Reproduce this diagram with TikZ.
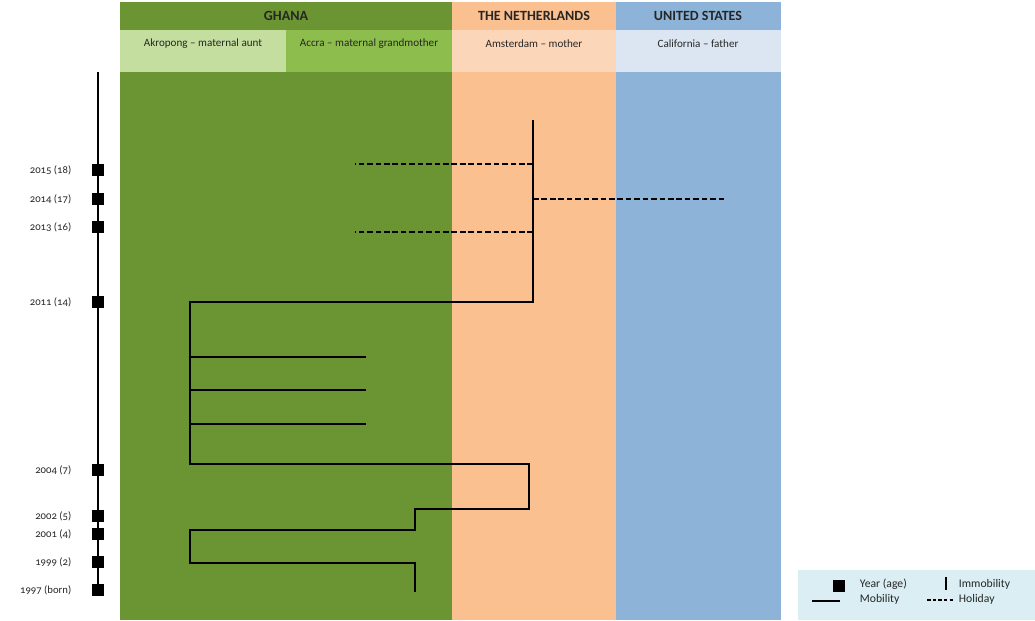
\documentclass[tikz,border=0pt]{standalone}
\usepackage{fontspec}
\setmainfont{Carlito}
\newfontfamily\yearfont[Numbers=OldStyle]{Carlito}
\usetikzlibrary{positioning}

\definecolor{ghanadark}{RGB}{107,148,50}
\definecolor{akrolight}{RGB}{196,222,160}
\definecolor{accramid}{RGB}{141,189,76}
\definecolor{nlpeach}{RGB}{251,192,144}
\definecolor{nllight}{RGB}{252,214,184}
\definecolor{usblue}{RGB}{141,180,216}
\definecolor{uslight}{RGB}{220,230,242}
\definecolor{legendblue}{RGB}{218,238,243}

\begin{document}
\begin{tikzpicture}[
				x=0.025cm, y=-0.025cm,
				country/.style={font=\bfseries\fontsize{10}{12}\selectfont, text=black!85},
				place/.style={font=\fontsize{7.9}{9}\selectfont, text=black!85},
				legendtext/.style={font=\fontsize{8.3}{9}\selectfont, text=black!85, anchor=west},
				mobility/.style={line width=1.1pt, line join=miter},
				holiday/.style={line width=1.1pt, dash pattern=on 4pt off 2pt},
				yearmark/.style={fill=black, minimum size=8.5pt, inner sep=0pt},
				yearlabel/.style={font=\yearfont\fontsize{7.6}{9}\selectfont, text=black!85}]
				
				\useasboundingbox (0,0) rectangle (1035,620);
				
				% Country columns
				\fill[ghanadark] (120,2) rectangle (452,620);
				\fill[akrolight] (120,30) rectangle (286,72);
				\fill[accramid] (286,30) rectangle (452,72);
				\fill[nlpeach] (452,2) rectangle (616,620);
				\fill[nllight] (452,30) rectangle (616,72);
				\fill[usblue] (616,2) rectangle (781,620);
				\fill[uslight] (616,30) rectangle (781,72);
				
				\node[country] (ghana) at (286,16) {GHANA};
				\node[country] (nl) at (534,16) {THE NETHERLANDS};
				\node[country] (us) at (698,16) {UNITED STATES};
				\node[place] (akropong) at (203,44) {Akropong -- maternal aunt};
				\node[place] (accra) at (369,44) {Accra -- maternal grandmother};
				\node[place] (amsterdam) at (534,44) {Amsterdam -- mother};
				\node[place] (california) at (698,44) {California -- father};
				
				% Time axis
				\coordinate (axtop) at (98,72);
				\coordinate (axbot) at (98,596);
				\draw[line width=1.5pt] (axtop) -- (axbot);
				\foreach \yr/\lab/\ypos in {2015/2015 (18)/170, 2014/2014 (17)/199,
						2013/2013 (16)/227, 2011/2011 (14)/302, 2004/2004 (7)/470,
						2002/2002 (5)/516, 2001/2001 (4)/534, 1999/1999 (2)/562,
						1997/1997 (born)/590}{
					\node[yearmark] (y\yr) at (98,\ypos) {};
					\node[yearlabel, left=11pt of y\yr, anchor=east] (l\yr) {\lab};
				}
				
				% Mobility path
				\coordinate (born) at (415,592);
				\coordinate (akro1) at (190,563);
				\coordinate (accra1) at (415,530);
				\coordinate (ams1) at (529,509);
				\coordinate (akro2) at (190,464);
				\coordinate (ams2) at (533,302);
				\coordinate (now) at (533,120);
				\draw[mobility] (born) |- (akro1) |- (accra1) |- (ams1) |- (akro2) |- (ams2) -- (now);
				\foreach \yy in {357,390,424}
					\draw[mobility] (akro2 |- 0,\yy) -- (366,\yy);
				
				% Holidays
				\coordinate (hol15) at (355,164);
				\coordinate (hol14) at (725,199);
				\coordinate (hol13) at (355,232);
				\draw[holiday] (hol15 -| now) -- (hol15);
				\draw[holiday] (hol14 -| now) -- (hol14);
				\draw[holiday] (hol13 -| now) -- (hol13);
				
				% Legend
				\fill[legendblue] (798,570) rectangle (1035,620);
				\node[yearmark] (lgyear) at (839,586) {};
				\node[legendtext] (lgyeartext) at (855,584) {Year (age)};
				\draw[line width=1.5pt] (946,577) -- (946,590);
				\node[legendtext] (lgimmo) at (954,584) {Immobility};
				\draw[line width=1.2pt] (812,601) -- (840,601);
				\node[legendtext] (lgmob) at (855,599) {Mobility};
				\draw[line width=1pt, dash pattern=on 2.5pt off 1.5pt] (927,600) -- (953,600);
				\node[legendtext] (lghol) at (954,599) {Holiday};
			\end{tikzpicture}
\end{document}
